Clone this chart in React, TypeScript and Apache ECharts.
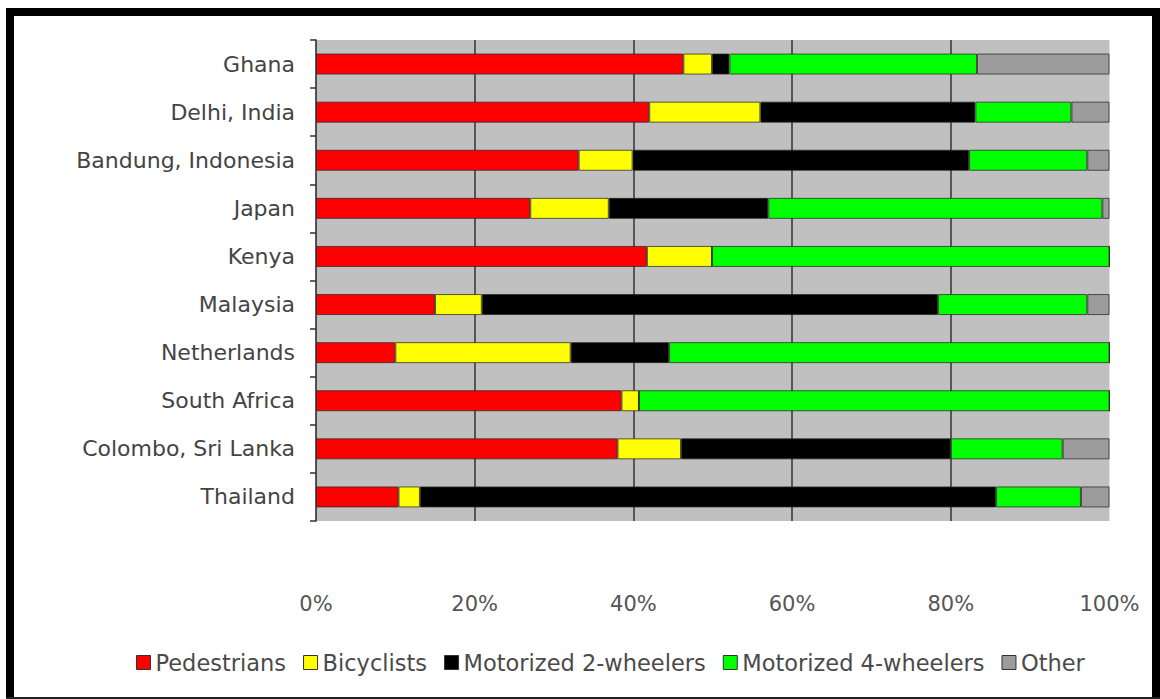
import React, { useEffect, useRef } from "react";
import * as echarts from "echarts";

const categories = [
  "Ghana",
  "Delhi, India",
  "Bandung, Indonesia",
  "Japan",
  "Kenya",
  "Malaysia",
  "Netherlands",
  "South Africa",
  "Colombo, Sri Lanka",
  "Thailand",
];

const pedestrians = [46.3, 42.0, 33.1, 27.0, 41.7, 15.0, 10.0, 38.5, 38.0, 10.4];
const bicyclists = [3.6, 14.0, 6.8, 9.9, 8.2, 5.9, 22.1, 2.2, 8.0, 2.7];
const motorized2 = [2.2, 27.1, 42.4, 20.1, 0, 57.5, 12.4, 0, 34.0, 72.6];
const motorized4 = [31.2, 12.1, 14.9, 42.1, 50.1, 18.8, 55.5, 59.3, 14.1, 10.7];
const other = [16.7, 4.8, 2.8, 0.9, 0, 2.8, 0, 0, 5.9, 3.6];

const seriesNames = [
  "Pedestrians",
  "Bicyclists",
  "Motorized 2-wheelers",
  "Motorized 4-wheelers",
  "Other",
];
const seriesColors = ["#ff0000", "#ffff00", "#000000", "#00ff00", "#9c9c9c"];
const seriesData = [pedestrians, bicyclists, motorized2, motorized4, other];

const xTicks = { min: 0, max: 100, interval: 20 };

const FONT = "DejaVu Sans";

export default function App() {
  const ref = useRef<HTMLDivElement>(null);

  useEffect(() => {
    if (!ref.current) return;
    const chart = echarts.init(ref.current, null, { renderer: "svg" });
    chart.setOption({
      animation: false,
      backgroundColor: "#ffffff",
      grid: {
        left: 316,
        top: 40,
        width: 793.5,
        height: 481,
        show: true,
        backgroundColor: "#c0c0c0",
        borderWidth: 0,
        containLabel: false,
      },
      xAxis: {
        type: "value",
        min: xTicks.min,
        max: xTicks.max,
        interval: xTicks.interval,
        axisLine: { show: false },
        axisTick: { show: false },
        axisLabel: {
          formatter: "{value}%",
          color: "#555555",
          fontSize: 21,
          fontFamily: FONT,
          margin: 72,
        },
        splitLine: {
          show: true,
          showMinLine: false,
          showMaxLine: false,
          lineStyle: { color: "#333333", width: 1.5 },
        },
      },
      yAxis: {
        type: "category",
        data: categories,
        inverse: true,
        axisLine: { show: true, lineStyle: { color: "#222222", width: 1.5 } },
        axisTick: { show: true, length: 6, lineStyle: { color: "#333333", width: 1.5 } },
        axisLabel: {
          color: "#444444",
          fontSize: 22,
          fontFamily: FONT,
          margin: 21,
        },
        splitLine: { show: false },
      },
      legend: {
        left: 131,
        top: 646,
        itemWidth: 14,
        itemHeight: 14,
        itemGap: 17,
        icon: "rect",
        textStyle: { color: "#4a4a4a", fontSize: 22.5, fontFamily: FONT },
        itemStyle: { borderColor: "#333333", borderWidth: 1 },
        data: seriesNames,
      },
      series: seriesNames.map((name, i) => ({
        name,
        type: "bar",
        stack: "total",
        barWidth: 21,
        data: seriesData[i],
        itemStyle: {
          color: seriesColors[i],
          borderColor: "rgba(40,40,40,0.75)",
          borderWidth: 1,
        },
      })),
      graphic: [
        { type: "rect", shape: { x: 6, y: 8, width: 1154, height: 8 }, style: { fill: "#000" } },
        { type: "rect", shape: { x: 6, y: 8, width: 8, height: 691 }, style: { fill: "#000" } },
        { type: "rect", shape: { x: 1152, y: 8, width: 8, height: 691 }, style: { fill: "#000" } },
        { type: "rect", shape: { x: 6, y: 697, width: 1154, height: 2 }, style: { fill: "#222" } },
      ],
    });
    return () => chart.dispose();
  }, []);

  return (
    <div
      ref={ref}
      style={{ position: "absolute", left: 0, top: 0, width: 1160, height: 699 }}
    />
  );
}
